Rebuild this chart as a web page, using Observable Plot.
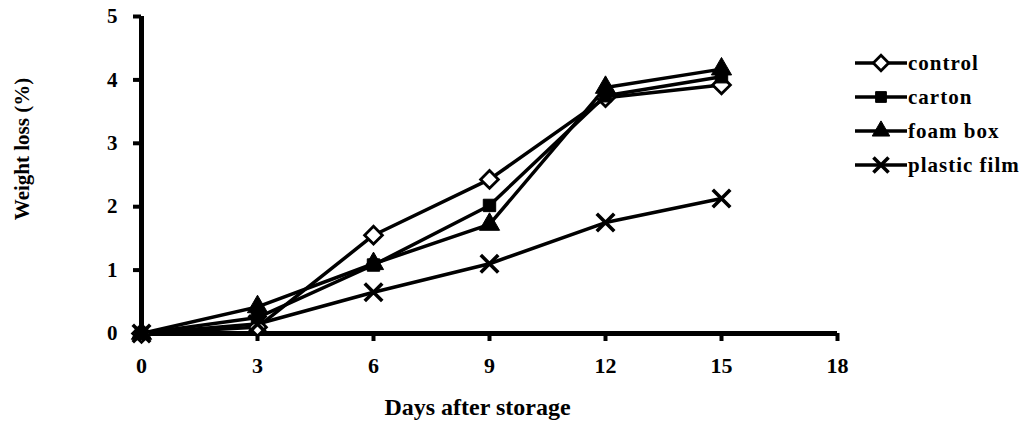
<!DOCTYPE html>
<html><head><meta charset="utf-8">
<script src="https://cdn.jsdelivr.net/npm/d3@7"></script>
<script src="https://cdn.jsdelivr.net/npm/@observablehq/plot@0.6"></script>
<style>
body{margin:0;background:#fff;}
#wrap{position:relative;width:1033px;height:428px;overflow:hidden;}
#legend{position:absolute;left:855px;top:46px;font-family:"Liberation Serif",serif;font-weight:bold;font-size:21px;letter-spacing:1px;color:#000;}
.row{display:flex;align-items:center;height:34px;}
.row svg{display:block;margin-right:1px;}
</style></head><body><div id="wrap"><div id="chart"></div><div id="legend"></div></div>
<script>
const days = [0, 3, 6, 9, 12, 15];
const seriesNames = ["control", "carton", "foam box", "plastic film"];
const control = [0, 0.10, 1.55, 2.43, 3.72, 3.92];
const carton = [0, 0.25, 1.08, 2.02, 3.75, 4.05];
const foamBox = [0, 0.42, 1.10, 1.72, 3.88, 4.17];
const plasticFilm = [0, 0.15, 0.65, 1.10, 1.75, 2.13];
const xTicks = [0, 3, 6, 9, 12, 15, 18];
const yTicks = [0, 1, 2, 3, 4, 5];
const xTitle = "Days after storage";
const yTitle = "Weight loss (%)";

const seriesValues = [control, carton, foamBox, plasticFilm];
const rows = [];
seriesNames.forEach((s, i) => days.forEach((d, j) => rows.push({series: s, day: d, value: seriesValues[i][j]})));
const of = s => rows.filter(r => r.series === s);

const symbolStyle = {
  "control": {symbol: "diamond2", fill: "white", stroke: "black", strokeWidth: 2.8, r: 8},
  "carton": {symbol: "square", fill: "black", stroke: "black", strokeWidth: 1, r: 7},
  "foam box": {symbol: "triangle", fill: "black", stroke: "black", strokeWidth: 1, r: 7.5},
  "plastic film": {symbol: "times", fill: "none", stroke: "black", strokeWidth: 3.6, r: 8}
};

const chart = Plot.plot({
  width: 1033,
  height: 428,
  marginLeft: 141,
  marginRight: 196,
  marginTop: 16,
  marginBottom: 95,
  style: {fontFamily: "'Liberation Serif', serif", fontWeight: "bold", fontSize: "21px", color: "black", background: "white"},
  x: {domain: [0, 18]},
  y: {domain: [0, 5]},
  marks: [
    Plot.axisX({ticks: xTicks, tickFormat: d => String(d), tickSize: 8, tickPadding: 16, strokeWidth: 4, fontSize: 22, label: null}),
    Plot.axisY({ticks: yTicks, tickFormat: d => String(d), tickSize: 8, tickPadding: 16, strokeWidth: 4, fontSize: 21, label: null}),
    Plot.text([xTitle], {frameAnchor: "bottom", textAnchor: "middle", lineAnchor: "middle", dx: -12, dy: 74, fontSize: 24}),
    Plot.text([yTitle], {frameAnchor: "left", textAnchor: "middle", lineAnchor: "middle", rotate: -90, dx: -119, dy: -26, fontSize: 21}),
    Plot.ruleY([0], {x1: 0, x2: 18, strokeWidth: 5, stroke: "black"}),
    Plot.ruleX([0], {y1: 0, y2: 5, strokeWidth: 5, stroke: "black"}),
    Plot.line(rows, {x: "day", y: "value", z: "series", stroke: "black", strokeWidth: 3.5}),
    ...seriesNames.map(s => Plot.dot(of(s), {x: "day", y: "value", ...symbolStyle[s]}))
  ]
});
document.getElementById("chart").append(chart);

// legend
const legend = document.getElementById("legend");
const symMap = {diamond2: d3.symbolDiamond2, square: d3.symbolSquare, triangle: d3.symbolTriangle, times: d3.symbolTimes};
seriesNames.forEach(s => {
  const row = document.createElement("div");
  row.className = "row";
  const st = symbolStyle[s];
  const path = d3.symbol(symMap[st.symbol], st.r * st.r * Math.PI * 0.75)();
  const svgNS = "http://www.w3.org/2000/svg";
  const svg = document.createElementNS(svgNS, "svg");
  svg.setAttribute("width", 52); svg.setAttribute("height", 24);
  svg.innerHTML = `<line x1="0" x2="52" y1="12" y2="12" stroke="black" stroke-width="3.5"/>` +
    `<path transform="translate(26,12)" d="${path}" fill="${st.fill}" stroke="${st.stroke}" stroke-width="${st.strokeWidth}"/>`;
  row.append(svg);
  const t = document.createElement("span");
  t.textContent = s;
  row.append(t);
  legend.append(row);
});
</script>
</body></html>
